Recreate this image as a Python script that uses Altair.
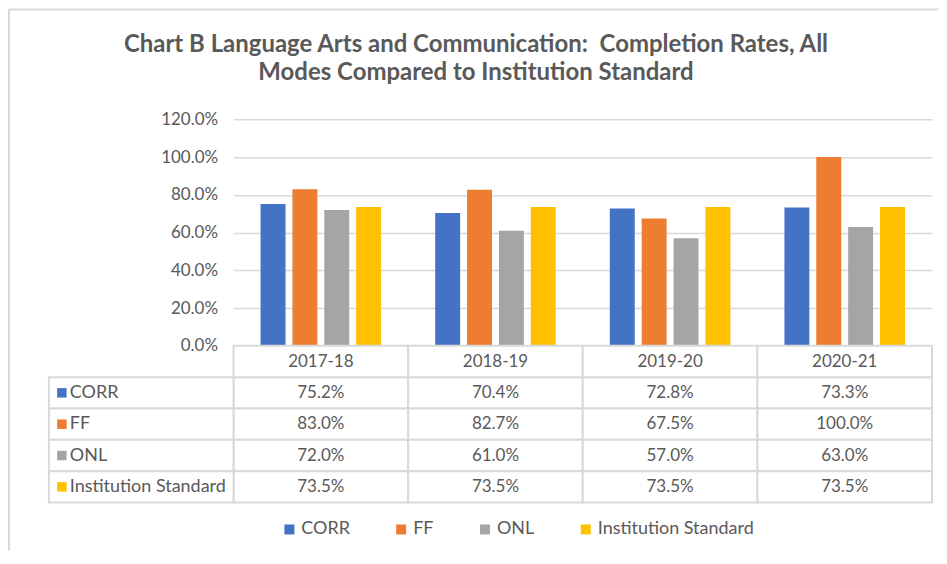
import altair as alt
import pandas as pd

years = ["2017-18", "2018-19", "2019-20", "2020-21"]
series = ["CORR", "FF", "ONL", "Institution Standard"]
corr = [0.752, 0.704, 0.728, 0.733]
ff = [0.830, 0.827, 0.675, 1.000]
onl = [0.720, 0.610, 0.570, 0.630]
inst = [0.735, 0.735, 0.735, 0.735]
colors = ["#4472C4", "#ED7D31", "#A5A5A5", "#FFC000"]
y_ticks = [0, 0.2, 0.4, 0.6, 0.8, 1.0, 1.2]
title_lines = ["Chart B Language Arts and Communication:\u00a0 Completion Rates, All",
               "Modes Compared to Institution Standard"]

vals = {"CORR": corr, "FF": ff, "ONL": onl, "Institution Standard": inst}
rows = []
for s in series:
    for y, v in zip(years, vals[s]):
        rows.append({"year": y, "series": s, "value": v, "row": s})
df = pd.DataFrame(rows)
hdr = pd.DataFrame({"year": years, "row": ["header"] * 4})
lab = pd.DataFrame({"series": series, "row": series})

FONT = "Lato"
TXT = "#595959"
GRID = "#d9d9d9"

xsc = alt.Scale(domain=years, paddingInner=0, paddingOuter=0)
csc = alt.Scale(domain=series, range=colors)
rowsc = alt.Scale(domain=["header"] + series, range=[227, 384], paddingInner=0, paddingOuter=0)

bars = alt.Chart(df).mark_bar(size=25).encode(
    x=alt.X("year:N", scale=xsc, axis=None, sort=years),
    xOffset=alt.XOffset("series:N", sort=series,
                        scale=alt.Scale(domain=series, paddingInner=0.22, paddingOuter=0.85)),
    y=alt.Y("value:Q", scale=alt.Scale(domain=[0, 1.2], nice=False),
            axis=alt.Axis(values=y_ticks, format=".1%", title=None, domain=False, ticks=False,
                          labelPadding=16, labelFont=FONT, labelFontSize=17, labelColor=TXT,
                          gridColor=GRID, gridWidth=1.5)),
    color=alt.Color("series:N", scale=csc, sort=series,
                    legend=alt.Legend(title=None, orient="none", direction="horizontal",
                                      legendX=47, legendY=402, symbolType="square",
                                      symbolSize=100, symbolStrokeWidth=0, labelFont=FONT,
                                      labelFontSize=18, labelColor=TXT, columnPadding=42,
                                      labelOffset=3, padding=0)),
)

body_cells = alt.Chart(df).mark_rect(fill="white", stroke=GRID, strokeWidth=2).encode(
    x=alt.X("year:N", scale=xsc, axis=None, sort=years),
    y=alt.Y("row:N", scale=rowsc, axis=None),
)
body_text = alt.Chart(df).mark_text(font=FONT, fontSize=17, color=TXT).encode(
    x=alt.X("year:N", scale=xsc, axis=None, sort=years),
    y=alt.Y("row:N", scale=rowsc, axis=None),
    text=alt.Text("value:Q", format=".1%"),
)
hdr_cells = alt.Chart(hdr).mark_rect(fill="white", stroke=GRID, strokeWidth=2).encode(
    x=alt.X("year:N", scale=xsc, axis=None, sort=years),
    y=alt.Y("row:N", scale=rowsc, axis=None),
)
hdr_text = alt.Chart(hdr).mark_text(font=FONT, fontSize=17, color=TXT).encode(
    x=alt.X("year:N", scale=xsc, axis=None, sort=years),
    y=alt.Y("row:N", scale=rowsc, axis=None),
    text="year:N",
)
lab_cells = alt.Chart(lab).mark_rect(fill="white", stroke=GRID, strokeWidth=2).encode(
    x=alt.value(-185), x2=alt.value(0),
    y=alt.Y("row:N", scale=rowsc, axis=None),
)
lab_sq = alt.Chart(lab).mark_square(size=90, opacity=1).encode(
    x=alt.value(-172),
    y=alt.Y("row:N", scale=rowsc, axis=None),
    color=alt.Color("series:N", scale=csc, legend=None),
)
lab_text = alt.Chart(lab).mark_text(font=FONT, fontSize=18, color=TXT, align="left").encode(
    x=alt.value(-164),
    y=alt.Y("row:N", scale=rowsc, axis=None),
    text="series:N",
)
table = alt.layer(body_cells, hdr_cells, lab_cells, body_text, hdr_text, lab_sq, lab_text)

one = pd.DataFrame({"a": [0]})
frame_top = alt.Chart(one).mark_rule(color=GRID, strokeWidth=2).encode(
    x=alt.value(-225), x2=alt.value(706), y=alt.value(-110))
frame_left = alt.Chart(one).mark_rule(color=GRID, strokeWidth=2).encode(
    x=alt.value(-225), y=alt.value(-110), y2=alt.value(432))

chart = alt.layer(frame_top, frame_left, bars, table).resolve_scale(y="independent").properties(
    width=700, height=227, padding=0,
    title=alt.TitleParams(text=title_lines, font=FONT, fontSize=24, fontWeight="bold",
                          color=TXT, anchor="middle", frame="group", dx=-107, offset=-77,
                          lineHeight=28),
).configure_view(stroke=None)

chart.save("out.html", embed_options={"renderer": "svg", "actions": False})
